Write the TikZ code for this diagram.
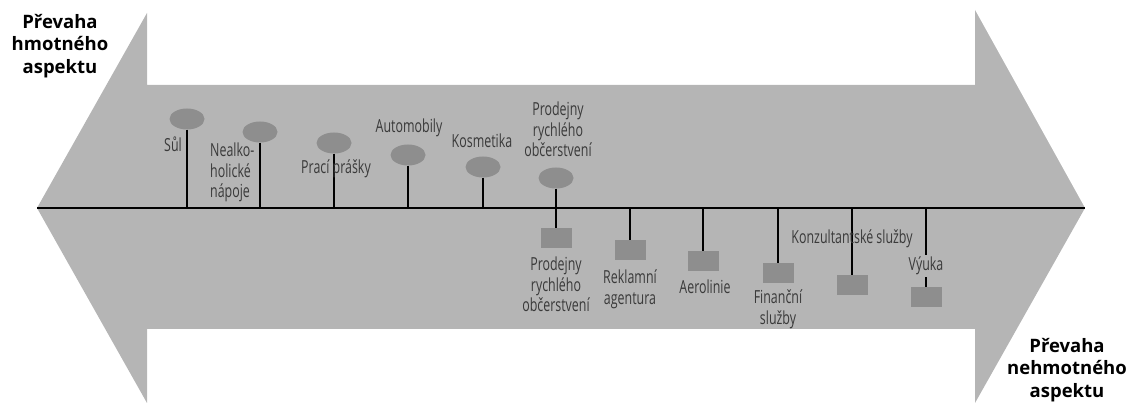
\documentclass[tikz,border=0pt]{standalone}
\usepackage{fontspec}
\setmainfont{Open Sans}
\newfontfamily\condfont[FakeStretch=0.69]{Open Sans}
\usetikzlibrary{shapes.geometric}
\definecolor{arrowgray}{HTML}{B5B5B5}
\definecolor{markgray}{HTML}{8E8E8E}
\definecolor{labelgray}{HTML}{3A3A3A}
\tikzset{
  good/.style={ellipse, fill=markgray, minimum width=35pt, minimum height=21pt, inner sep=0pt},
  service/.style={rectangle, fill=markgray, minimum width=31pt, minimum height=20pt, inner sep=0pt},
  stem/.style={line width=1.4pt, black},
  lbl/.style={font=\condfont\fontsize{18}{20.5}\selectfont, text=labelgray, inner sep=0pt, align=center},
  ttl/.style={font=\bfseries\fontsize{18.5}{22.5}\selectfont, text=black, inner sep=0pt, align=center}
}
\begin{document}
\begin{tikzpicture}[x=1pt,y=-1pt]
\useasboundingbox (0,0) rectangle (1130,403);
% double arrow
\fill[arrowgray] (37,208) -- (147,13) -- (147,85) -- (975,85) -- (975,10) -- (1085,208)
  -- (975,403) -- (975,329) -- (147,329) -- (147,403) -- cycle;
% axis
\coordinate (L) at (37,208);
\coordinate (R) at (1085,208);
\draw[stem] (L) -- (R);
% goods (ellipses)
\node[good] (g1) at (187,119) {};
\node[good] (g2) at (260,132) {};
\node[good] (g3) at (334,143) {};
\node[good] (g4) at (408,155) {};
\node[good] (g5) at (483,167) {};
\node[good] (g6) at (556,178) {};
% services (rectangles)
\node[service] (s1) at (556,238) {};
\node[service] (s2) at (630,250) {};
\node[service] (s3) at (703,261) {};
\node[service] (s4) at (778,273) {};
\node[service] (s5) at (852,285) {};
\node[service] (s6) at (926,297) {};
% stems
\draw[stem] (g1) -- (g1 |- L);
\draw[stem] (g2) -- (g2 |- L);
\draw[stem] (g3) -- (g3 |- L);
\draw[stem] (g4) -- (g4 |- L);
\draw[stem] (g5) -- (g5 |- L);
\draw[stem] (g6) -- (s1);
\draw[stem] (s2 |- L) -- (s2);
\draw[stem] (s3 |- L) -- (s3);
\draw[stem] (s4 |- L) -- (s4);
\draw[stem] (s5 |- L) -- (s5);
\draw[stem] (s6 |- L) -- (s6);
% labels of goods
\node[lbl, anchor=base east] (t1) at (182,152) {Sůl};
\node[lbl, anchor=north west, align=left] (t2) at (210,143) {Nealko-\\holické\\nápoje};
\node[lbl, anchor=base] (t3) at (336,174) {Prací prášky};
\node[lbl, anchor=base] (t4) at (409,133) {Automobily};
\node[lbl, anchor=base] (t5) at (482,148) {Kosmetika};
\node[lbl, anchor=north] (t6) at (558,102) {Prodejny\\rychlého\\občerstvení};
% labels of services
\node[lbl, anchor=north] (u1) at (556,257) {Prodejny\\rychlého\\občerstvení};
\node[lbl, anchor=north] (u2) at (630,270) {Reklamní\\agentura};
\node[lbl, anchor=base] (u3) at (705,294) {Aerolinie};
\node[lbl, anchor=north] (u4) at (778,290) {Finanční\\služby};
\node[lbl, anchor=base] (u5) at (852,244) {Konzultantské služby};
\node[lbl, anchor=base, fill=arrowgray, inner sep=2pt] (u6) at (926,271) {Výuka};
% titles
\node[ttl, anchor=north] (hl) at (60,14) {Převaha\\hmotného\\aspektu};
\node[ttl, anchor=north] (hr) at (1067,338) {Převaha\\nehmotného\\aspektu};
\end{tikzpicture}
\end{document}
